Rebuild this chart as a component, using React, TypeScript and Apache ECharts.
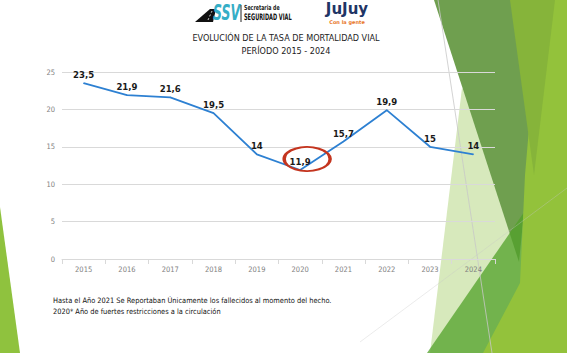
import React, { useEffect, useRef } from "react";
import * as echarts from "echarts";

const categories = ["2015", "2016", "2017", "2018", "2019", "2020", "2021", "2022", "2023", "2024"];
const values = [23.5, 21.9, 21.6, 19.5, 14, 11.9, 15.7, 19.9, 15, 14];
const highlightIndex = 5;
const yMin = 0;
const yMax = 25;
const yInterval = 5;

const titleLines = ["EVOLUCIÓN DE LA TASA DE MORTALIDAD VIAL", "PERÍODO 2015 - 2024"];
const notes = [
  "Hasta el Año 2021 Se Reportaban Únicamente los fallecidos al momento del hecho.",
  "2020* Año de fuertes restricciones a la circulación",
];

const COND = "'DejaVu Sans Condensed', 'DejaVu Sans', sans-serif";

function poly(points: number[][], fill: string, z = -10) {
  return { type: "polygon", z, silent: true, shape: { points }, style: { fill } };
}

export default function App() {
  const ref = useRef<HTMLDivElement>(null);
  useEffect(() => {
    if (!ref.current) return;
    const chart = echarts.init(ref.current, null, { renderer: "svg" });
    const graphics: any[] = [
      // background decorative shapes
      poly([[0, 207], [20, 353], [0, 353]], "#8fc23e"),
      poly([[462, 88], [430, 353], [540, 353], [540, 200]], "#d7e9bc"),
      poly([[434, 0], [545, 0], [519, 262]], "#6f9f4f"),
      poly([[427, 353], [567, 150], [567, 353]], "rgba(80,160,40,0.75)"),
      poly([[540, 0], [567, 0], [567, 353], [483, 353], [520, 283], [525, 175]], "#93c23b"),
      poly([[510, 0], [555, 0], [534, 175]], "#86b43a"),
      { type: "line", z: -9, silent: true, shape: { x1: 438, y1: 0, x2: 492, y2: 353 }, style: { stroke: "#c8c8c8", lineWidth: 0.8 } },
      { type: "line", z: -9, silent: true, shape: { x1: 360, y1: 342, x2: 567, y2: 188 }, style: { stroke: "rgba(200,200,200,0.6)", lineWidth: 0.6 } },
      // SSV logo
      poly([[195, 22], [210, 9], [216, 9], [213, 22]], "#111111", 5),
      { type: "line", z: 6, shape: { x1: 208, y1: 20, x2: 212, y2: 11 }, style: { stroke: "#ffffff", lineWidth: 0.8, lineDash: [2, 2] } },
      {
        type: "text", z: 5, x: 213, y: 2, scaleX: 0.66,
        style: { text: "SSV", fill: "#35aec6", font: "italic bold 21px " + COND, textAlign: "left", textVerticalAlign: "top" },
      },
      { type: "line", z: 5, shape: { x1: 241, y1: 5, x2: 241, y2: 22 }, style: { stroke: "#222", lineWidth: 1 } },
      {
        type: "text", z: 5, x: 244, y: 4, scaleX: 0.75,
        style: { text: "Secretaria de", fill: "#222", font: "bold 7px " + COND, textAlign: "left", textVerticalAlign: "top" },
      },
      {
        type: "text", z: 5, x: 244, y: 12, scaleX: 0.62,
        style: { text: "SEGURIDAD VIAL", fill: "#111", font: "bold 9px " + COND, textAlign: "left", textVerticalAlign: "top" },
      },
      // Jujuy logo
      {
        type: "text", z: 5, x: 347, y: 1,
        style: { text: "JuJuy", fill: "#1f3566", font: "900 15px 'DejaVu Sans', sans-serif", textAlign: "center", textVerticalAlign: "top" },
      },
      {
        type: "text", z: 5, x: 347, y: 19,
        style: { text: "Con la gente", fill: "#e8782a", font: "bold 5px 'DejaVu Sans', sans-serif", textAlign: "center", textVerticalAlign: "top" },
      },
      // Title
      {
        type: "text", z: 5, x: 286, y: 38,
        style: { text: titleLines[0], fill: "#222", font: "9px " + COND, textAlign: "center", textVerticalAlign: "middle" },
      },
      {
        type: "text", z: 5, x: 286, y: 51,
        style: { text: titleLines[1], fill: "#222", font: "9px " + COND, textAlign: "center", textVerticalAlign: "middle" },
      },
      // Notes
      {
        type: "text", z: 5, x: 53, y: 300,
        style: { text: notes[0], fill: "#111", font: "7.4px " + COND, textAlign: "left", textVerticalAlign: "middle" },
      },
      {
        type: "text", z: 5, x: 53, y: 311,
        style: { text: notes[1], fill: "#111", font: "7.4px " + COND, textAlign: "left", textVerticalAlign: "middle" },
      },
    ];

    chart.setOption({
      animation: false,
      backgroundColor: "#ffffff",
      graphic: { elements: graphics },
      grid: { left: 62, right: 72, top: 72, bottom: 94, containLabel: false },
      xAxis: {
        type: "category",
        data: categories,
        boundaryGap: true,
        axisLine: { lineStyle: { color: "#d9d9d9", width: 1 } },
        axisTick: { show: true, length: 5, lineStyle: { color: "#d9d9d9" } },
        axisLabel: { color: "#808080", fontSize: 7.5, fontFamily: COND, margin: 6 },
      },
      yAxis: {
        type: "value",
        min: yMin,
        max: yMax,
        interval: yInterval,
        axisLine: { show: false },
        axisTick: { show: false },
        axisLabel: { color: "#808080", fontSize: 7.5, fontFamily: COND, margin: 7 },
        splitLine: { lineStyle: { color: "#d9d9d9", width: 1 } },
      },
      series: [
        {
          type: "line",
          data: values,
          symbol: "circle",
          symbolSize: 1,
          showSymbol: true,
          lineStyle: { color: "#2d80d2", width: 1.8 },
          itemStyle: { color: "#2d80d2" },
          label: {
            show: true,
            position: "top",
            distance: 3,
            color: "#1a1a1a",
            fontSize: 9.5,
            fontWeight: "bold",
            fontFamily: COND,
            formatter: (p: any) => String(p.value).replace(".", ","),
          },
          markPoint: {
            silent: true,
            symbol: "circle",
            symbolSize: [46, 24],
            symbolOffset: [7, -11],
            itemStyle: { color: "rgba(0,0,0,0)", borderColor: "#c4351f", borderWidth: 2.5 },
            label: { show: false },
            data: [{ coord: [categories[highlightIndex], values[highlightIndex]] }],
            z: 10,
          },
          z: 5,
        },
      ],
    });
    return () => chart.dispose();
  }, []);
  return <div ref={ref} style={{ position: "fixed", left: 0, top: 0, width: 567, height: 353 }} />;
}
